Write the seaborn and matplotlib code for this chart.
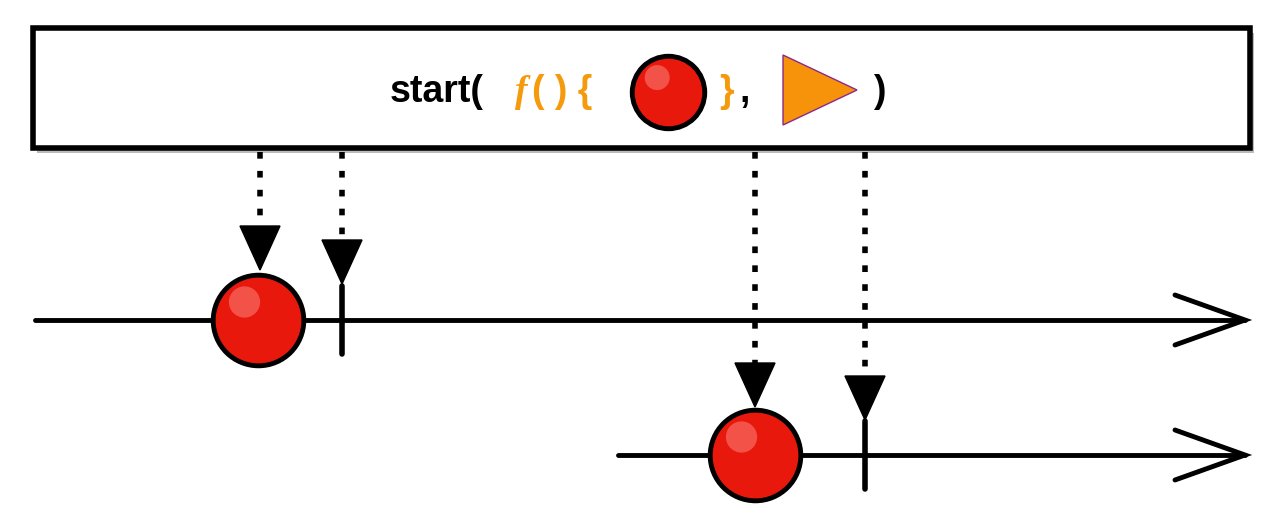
import matplotlib
matplotlib.use("Agg")
import matplotlib.pyplot as plt
import seaborn as sns
from matplotlib.patches import Rectangle, Polygon

sns.set_style("white")
plt.rcParams["font.family"] = ["Liberation Sans", "DejaVu Sans"]

# timelines: (y, x start)
line_y = [320, 455]
line_x0 = [35, 618]
line_x1 = 1245
# emitted items on each line
ball_x = [258, 755]
ball_y = [320, 455]
# completion ticks
tick_x = [342, 865]
tick_y = [320, 455]
# arrow tips (x, tip y)
arrow_x = [260, 342, 755, 865]
arrow_tip = [270, 284, 407, 420]

fig = plt.figure(figsize=(12.8, 5.2), dpi=100)
ax = fig.add_axes([0, 0, 1, 1])
ax.set_xlim(0, 1280)
ax.set_ylim(520, 0)
ax.axis("off")

# operator box with shadow
ax.add_patch(Rectangle((37, 33), 1217, 120, facecolor="#bbbbbb", edgecolor="none", zorder=1))
ax.add_patch(Rectangle((33, 28), 1217, 120, facecolor="white", edgecolor="black", lw=4, zorder=2))

def ball(x, y, r, z=5):
    ax.scatter([x], [y], s=(r * 1.45) ** 2, color="#e8180c", edgecolor="black", linewidth=3.5, zorder=z)
    ax.scatter([x - r * 0.3], [y - r * 0.4], s=(r * 0.5) ** 2, color="#ff9a90", alpha=0.45, edgecolor="none", zorder=z + 1)

ty = 92
ax.text(390, ty, "start(", fontsize=27, fontweight="bold", color="black", va="center", zorder=3)
ax.text(515, ty, "f", fontsize=27, fontweight="bold", style="italic", family="Liberation Serif", color="#f59a0c", va="center", zorder=3)
ax.text(532, ty, "( ) {", fontsize=27, fontweight="bold", color="#f59a0c", va="center", zorder=3)
ball(668, ty, 36)
ax.text(719, ty, "}", fontsize=27, fontweight="bold", color="#f59a0c", va="center", zorder=3)
ax.text(739, ty, ",", fontsize=27, fontweight="bold", color="black", va="center", zorder=3)
ax.add_patch(Polygon([[783, 55], [783, 125], [857, 90]], facecolor="#f7930a", edgecolor="#8a2a8a", lw=1, zorder=3))
ax.text(873, ty, ")", fontsize=27, fontweight="bold", color="black", va="center", zorder=3)

# dotted arrows
for x, tip in zip(arrow_x, arrow_tip):
    ax.plot([x, x], [152, tip - 42], color="black", lw=4, ls=(0, (1.2, 2.2)), zorder=3)
    ax.add_patch(Polygon([[x - 20, tip - 44], [x + 20, tip - 44], [x, tip]], facecolor="black", edgecolor="black", zorder=4))

# timelines
for y, x0 in zip(line_y, line_x0):
    ax.plot([x0, line_x1], [y, y], color="black", lw=3.5, zorder=3, solid_capstyle="round")
    ax.plot([line_x1 - 70, line_x1, line_x1 - 70], [y - 25, y, y + 25], color="black", lw=3.5, zorder=3,
            solid_joinstyle="miter")

for x, y in zip(tick_x, tick_y):
    ax.plot([x, x], [y - 34, y + 34], color="black", lw=4, zorder=4)

for x, y in zip(ball_x, ball_y):
    ball(x, y, 45)

fig.savefig("out.png", dpi=100)
